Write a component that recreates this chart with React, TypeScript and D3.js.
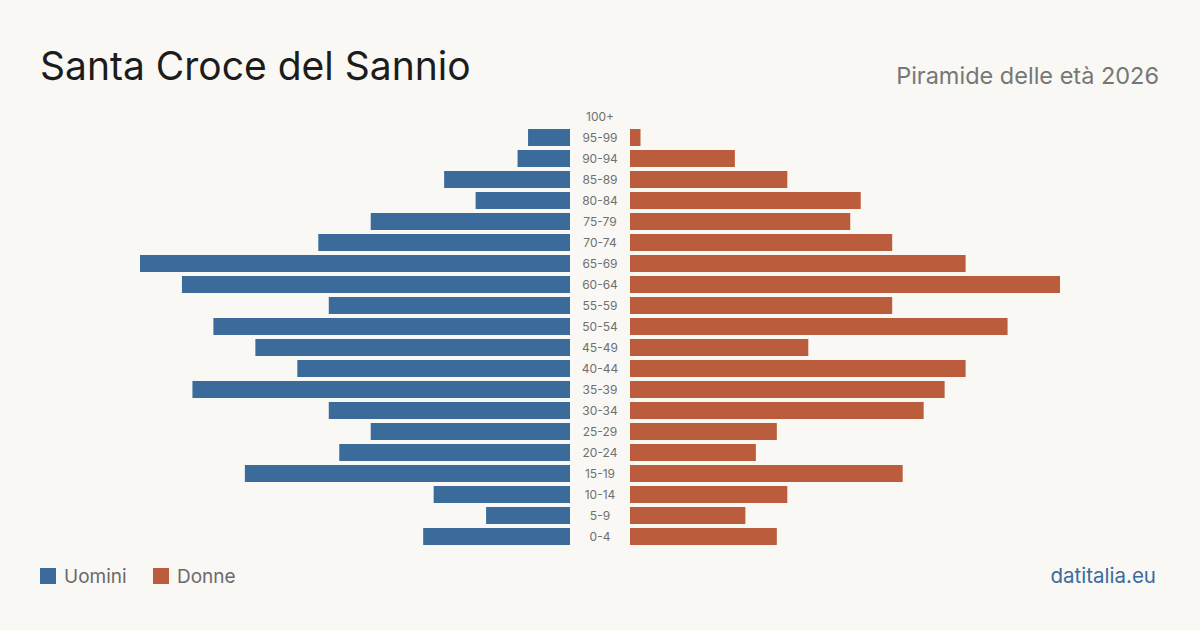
import React, { useEffect, useRef } from "react";
import * as d3 from "d3";

const ageGroups = ["0-4", "5-9", "10-14", "15-19", "20-24", "25-29", "30-34", "35-39", "40-44", "45-49",
  "50-54", "55-59", "60-64", "65-69", "70-74", "75-79", "80-84", "85-89", "90-94", "95-99", "100+"];
const men = [14, 8, 13, 31, 22, 19, 23, 36, 26, 30, 34, 23, 37, 41, 24, 19, 9, 12, 5, 4, 0];
const women = [14, 11, 15, 26, 12, 14, 28, 30, 32, 17, 36, 25, 41, 32, 25, 21, 22, 15, 10, 1, 0];
const legendItems = ["Uomini", "Donne"];

const BLUE = "#3b6b9b";
const ORANGE = "#bb5d3c";
const FONT = "Inter, 'Noto Sans', sans-serif";

export default function App() {
  const ref = useRef<SVGSVGElement>(null);

  useEffect(() => {
    document.body.style.margin = "0";
    const svg = d3.select(ref.current);
    svg.selectAll("*").remove();

    const width = 1200, height = 630;
    const center = 600, gap = 30;

    svg.append("rect").attr("width", width).attr("height", height).attr("fill", "#f9f8f4");

    const maxVal = d3.max([...men, ...women]) as number;
    const x = d3.scaleLinear().domain([0, maxVal]).range([0, 430]);
    const y = d3.scaleBand<string>()
      .domain([...ageGroups].reverse())
      .range([106, 547])
      .paddingInner(0.19)
      .paddingOuter(0.095);

    const g = svg.append("g");

    g.selectAll(".men")
      .data(ageGroups)
      .join("rect")
      .attr("x", (d, i) => center - gap - x(men[i]))
      .attr("y", d => y(d) as number)
      .attr("width", (d, i) => x(men[i]))
      .attr("height", y.bandwidth())
      .attr("fill", BLUE);

    g.selectAll(".women")
      .data(ageGroups)
      .join("rect")
      .attr("x", center + gap)
      .attr("y", d => y(d) as number)
      .attr("width", (d, i) => x(women[i]))
      .attr("height", y.bandwidth())
      .attr("fill", ORANGE);

    g.selectAll(".lab")
      .data(ageGroups)
      .join("text")
      .attr("x", center)
      .attr("y", d => (y(d) as number) + y.bandwidth() / 2)
      .attr("dy", "0.35em")
      .attr("text-anchor", "middle")
      .attr("font-family", FONT)
      .attr("font-size", 12)
      .attr("fill", "#707070")
      .text(d => d);

    svg.append("text")
      .attr("x", 40).attr("y", 80)
      .attr("font-family", FONT)
      .attr("font-size", 39)
      .attr("fill", "#1c1c1c")
      .text("Santa Croce del Sannio");

    svg.append("text")
      .attr("x", 1159).attr("y", 84)
      .attr("text-anchor", "end")
      .attr("font-family", FONT)
      .attr("font-size", 23.5)
      .attr("fill", "#777")
      .text("Piramide delle età 2026");

    const legend = svg.append("g");
    const lx = [40, 153];
    legendItems.forEach((name, i) => {
      legend.append("rect")
        .attr("x", lx[i]).attr("y", 568)
        .attr("width", 16).attr("height", 16)
        .attr("fill", i === 0 ? BLUE : ORANGE);
      legend.append("text")
        .attr("x", lx[i] + 24).attr("y", 583)
        .attr("font-family", FONT)
        .attr("font-size", 19)
        .attr("fill", "#6a6a6a")
        .text(name);
    });

    svg.append("text")
      .attr("x", 1156).attr("y", 583)
      .attr("text-anchor", "end")
      .attr("font-family", FONT)
      .attr("font-size", 20.5)
      .attr("fill", "#3a6a9e")
      .text("datitalia.eu");
  }, []);

  return <svg ref={ref} width={1200} height={630} style={{ display: "block" }} />;
}
